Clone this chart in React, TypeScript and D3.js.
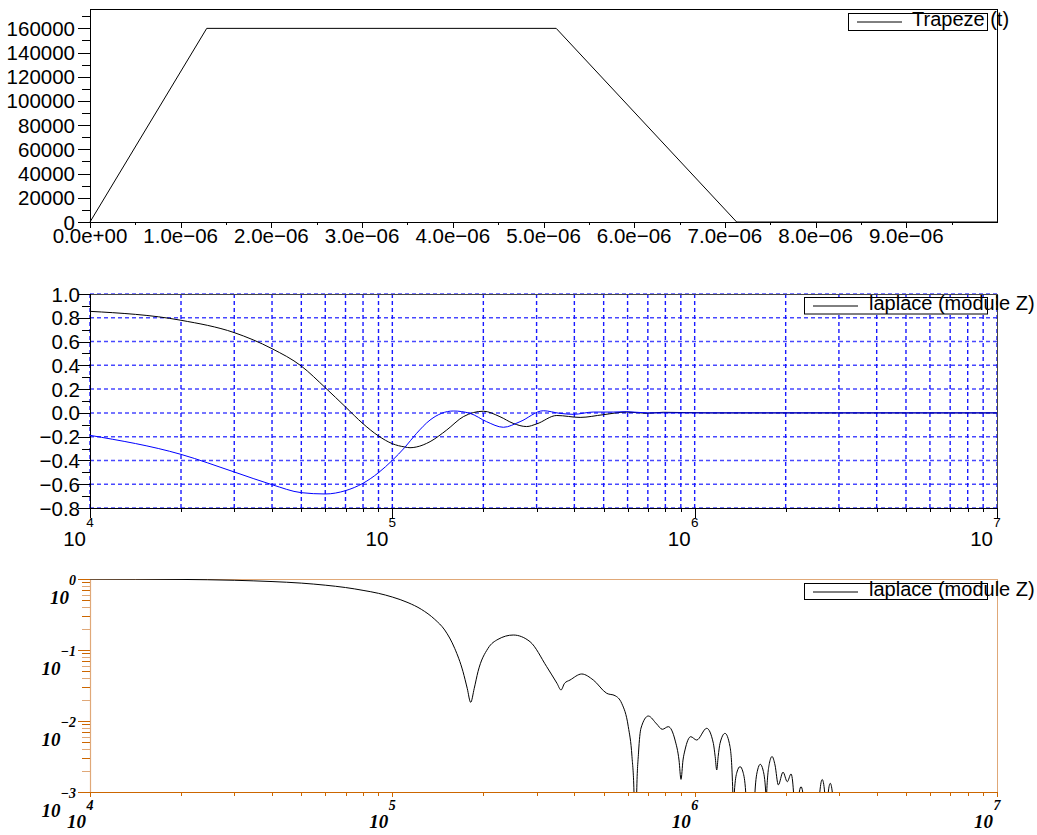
import React from "react";
import * as d3 from "d3";

const W = 1037;
const H = 835;

// ---------- Top panel: trapezoid signal ----------
const trapTime = [0, 1.287e-6, 5.14e-6, 7.13e-6, 1.0e-5];
const trapValue = [0, 160000, 160000, 0, 0];
const topXTicks = [0, 1e-6, 2e-6, 3e-6, 4e-6, 5e-6, 6e-6, 7e-6, 8e-6, 9e-6];
const topXLabels = ["0.0e+00", "1.0e\u221206", "2.0e\u221206", "3.0e\u221206", "4.0e\u221206", "5.0e\u221206", "6.0e\u221206", "7.0e\u221206", "8.0e\u221206", "9.0e\u221206"];
const topYTicks = [0, 20000, 40000, 60000, 80000, 100000, 120000, 140000, 160000];
const topYLabels = ["0", "20000", "40000", "60000", "80000", "100000", "120000", "140000", "160000"];

// ---------- Middle panel: real / imaginary parts ----------
const freqRe = [1e4, 2e4, 3e4, 4e4, 5e4, 6e4, 7e4, 8e4, 9e4, 1e5, 1.1e5, 1.144e5, 1.2e5, 1.333e5, 1.513e5, 1.717e5, 2.0e5, 2.27e5, 2.51e5, 2.78e5, 3.0e5, 3.5e5, 4.18e5, 4.99e5, 5.96e5, 6.94e5, 7.87e5, 1.12e6, 1e7];
const reVals = [0.854, 0.779, 0.675, 0.54, 0.394, 0.212, 0.05, -0.091, -0.194, -0.259, -0.287, -0.293, -0.287, -0.242, -0.144, -0.032, 0.014, -0.032, -0.088, -0.115, -0.093, -0.022, -0.038, -0.015, 0.007, -0.003, 0.005, 0.0, 0.0];
const freqIm = [1e4, 2e4, 3e4, 4e4, 5e4, 6e4, 7e4, 8e4, 9e4, 1e5, 1.1e5, 1.2e5, 1.333e5, 1.591e5, 1.807e5, 2.05e5, 2.33e5, 2.645e5, 3.16e5, 3.585e5, 3.97e5, 4.62e5, 5.38e5, 5.96e5, 6.94e5, 1e7];
const imVals = [-0.189, -0.349, -0.497, -0.604, -0.671, -0.682, -0.654, -0.592, -0.503, -0.399, -0.29, -0.175, -0.06, 0.016, -0.004, -0.074, -0.121, -0.074, 0.018, -0.004, -0.012, 0.007, 0.007, 0.01, 0.0, 0.0];
const midYTicks = [-0.8, -0.6, -0.4, -0.2, 0.0, 0.2, 0.4, 0.6, 0.8, 1.0];
const midYLabels = ["\u22120.8", "\u22120.6", "\u22120.4", "\u22120.2", "0.0", "0.2", "0.4", "0.6", "0.8", "1.0"];
const decadeTicks = [1e4, 1e5, 1e6, 1e7];
const decadeExp = ["4", "5", "6", "7"];

const freqMod = [
  1e4, 2e4, 3e4, 4e4, 5e4, 6e4, 7e4, 8e4, 9e4, 1e5,
  1.127e5, 1.247e5, 1.381e5, 1.49e5, 1.608e5, 1.713e5, 1.769e5, 1.816e5, 1.866e5, 1.92e5,
  2.072e5, 2.236e5, 2.512e5, 2.854e5, 3.24e5, 3.505e5, 3.614e5, 3.711e5, 3.87e5, 4.231e5,
  4.622e5, 5.118e5, 5.452e5, 5.737e5, 6.032e5, 6.204e5, 6.299e5, 6.363e5, 6.431e5, 6.52e5,
  6.645e5, 7.025e5, 7.487e5, 7.816e5, 8.18e5, 8.61e5, 8.876e5, 9.012e5, 9.15e5, 9.29e5,
  9.703e5, 1.0155e6, 1.096e6, 1.153e6, 1.169e6, 1.183e6, 1.196e6, 1.213e6, 1.26e6, 1.309e6,
  1.337e6, 1.345e6, 1.353e6, 1.38e6, 1.413e6, 1.445e6, 1.475e6, 1.484e6,
  1.573e6, 1.583e6, 1.615e6, 1.648e6, 1.683e6, 1.718e6, 1.724e6,
  1.731e6, 1.766e6, 1.803e6, 1.844e6, 1.891e6, 1.96e6, 2.025e6, 2.083e6, 2.123e6, 2.136e6,
  2.206e6, 2.219e6, 2.248e6, 2.277e6, 2.291e6,
  2.578e6, 2.594e6, 2.642e6, 2.691e6, 2.707e6,
  2.751e6, 2.767e6, 2.809e6, 2.852e6, 2.87e6,
  1e7,
];
const modLog10 = [
  0, -0.006, -0.018, -0.036, -0.058, -0.087, -0.12, -0.16, -0.202, -0.254,
  -0.333, -0.427, -0.568, -0.718, -0.977, -1.305, -1.54, -1.737, -1.54, -1.305,
  -0.977, -0.85, -0.789, -0.883, -1.235, -1.47, -1.563, -1.47, -1.423, -1.338,
  -1.423, -1.61, -1.643, -1.751, -2.08, -2.5, -3.0, -4.5, -3.0, -2.45,
  -2.1, -1.93, -2.042, -2.117, -2.08, -2.268, -2.55, -2.822, -2.55, -2.408,
  -2.221, -2.268, -2.103, -2.315, -2.5, -2.69, -2.5, -2.315, -2.174, -2.362,
  -3.0, -4.0, -3.0, -2.72, -2.643, -2.72, -3.0, -3.6,
  -3.6, -3.0, -2.69, -2.61, -2.69, -3.0, -3.5,
  -3.0, -2.6, -2.5, -2.62, -2.9, -2.72, -2.855, -2.746, -3.0, -3.6,
  -3.6, -3.0, -2.926, -3.0, -3.6,
  -3.6, -3.0, -2.825, -3.0, -3.6,
  -3.6, -3.0, -2.878, -3.0, -3.6,
  -3.6,
];
const botYTicks = [1, 0.1, 0.01, 0.001];
const botYExp = ["0", "\u22121", "\u22122", "\u22123"];

const SANS = "'Liberation Sans', Arial, Helvetica, sans-serif";
const SERIF = "'Liberation Serif', 'Times New Roman', serif";
const ORANGE = "#cc6600";
const ORANGE_LIGHT = "#e0a878";
const GRID = "#1a1aff";
const TICK_FS = 20.5;
const LEG_FS = 20;

function minorLog(lo: number, hi: number): number[] {
  const out: number[] = [];
  for (let k = lo; k < hi; k++) {
    for (let m = 2; m <= 9; m++) out.push(m * Math.pow(10, k));
  }
  return out;
}

export default function App() {
  const L = 90;
  const R = 997;

  // top panel scales
  const T0 = 9, T1 = 222;
  const xT = d3.scaleLinear().domain([0, 1e-5]).range([L, R]);
  const yT = d3.scaleLinear().domain([0, 176000]).range([T1, T0]);

  // middle panel scales
  const M0 = 294, M1 = 508;
  const xM = d3.scaleLog().domain([1e4, 1e7]).range([L, R]);
  const yM = d3.scaleLinear().domain([-0.8, 1.0]).range([M1, M0]);

  // bottom panel scales
  const B0 = 579, B1 = 792;
  const xB = d3.scaleLog().domain([1e4, 1e7]).range([L, R]);
  const yB = d3.scaleLog().domain([1e-3, 1]).range([B1, B0]);

  const trapLine = d3.line<number>().x((_, i) => xT(trapTime[i])).y((d) => yT(d))(trapValue) || "";
  const reLine = d3.line<number>().x((_, i) => xM(freqRe[i])).y((d) => yM(d)).curve(d3.curveMonotoneX)(reVals) || "";
  const imLine = d3.line<number>().x((_, i) => xM(freqIm[i])).y((d) => yM(d)).curve(d3.curveMonotoneX)(imVals) || "";
  const modLine = d3.line<number>().x((_, i) => xB(freqMod[i])).y((d) => yB(Math.pow(10, d))).curve(d3.curveMonotoneX)(modLog10) || "";

  const topMinorX = d3.range(0, 20).map((i) => i * 0.5e-6).filter((v, i) => i % 2 === 1);
  const topMinorY = d3.range(0, 18).map((i) => i * 10000);
  const midMinorY = d3.range(0, 19).map((i) => -0.8 + i * 0.1);
  const logMinorX = minorLog(4, 7);
  const logMinorY = minorLog(-3, 0);
  const midGridX = [...decadeTicks, ...logMinorX];

  return (
    <svg width={W} height={H} style={{ position: "absolute", left: 0, top: 0, background: "#fff" }} fontFamily={SANS}>
      <defs>
        <clipPath id="clipM"><rect x={L} y={M0} width={R - L} height={M1 - M0} /></clipPath>
        <clipPath id="clipB"><rect x={L} y={B0} width={R - L} height={B1 - B0} /></clipPath>
      </defs>
      <rect x={0} y={0} width={W} height={H} fill="#fff" />

      {/* ================= TOP PANEL ================= */}
      <g>
        <rect x={L + 0.5} y={T0 + 0.5} width={R - L} height={T1 - T0} fill="none" stroke="#000" strokeWidth={1} />
        {topYTicks.map((v, i) => (
          <g key={"tyt" + i}>
            <line x1={L - 12} x2={L} y1={Math.round(yT(v)) + 0.5} y2={Math.round(yT(v)) + 0.5} stroke="#000" />
            <text x={75} y={yT(v) + 7.5} textAnchor="end" fontSize={TICK_FS} fill="#000">{topYLabels[i]}</text>
          </g>
        ))}
        {topMinorY.map((v, i) => (
          <line key={"tym" + i} x1={L - 8} x2={L} y1={Math.round(yT(v)) + 0.5} y2={Math.round(yT(v)) + 0.5} stroke="#000" />
        ))}
        {topXTicks.map((v, i) => (
          <g key={"txt" + i}>
            <line x1={Math.round(xT(v)) + 0.5} x2={Math.round(xT(v)) + 0.5} y1={T1} y2={T1 + 6} stroke="#000" />
            <text x={xT(v)} y={243} textAnchor="middle" fontSize={TICK_FS} fill="#000">{topXLabels[i]}</text>
          </g>
        ))}
        {topMinorX.map((v, i) => (
          <line key={"txm" + i} x1={Math.round(xT(v)) + 0.5} x2={Math.round(xT(v)) + 0.5} y1={T1} y2={T1 + 3} stroke="#000" />
        ))}
        <path d={trapLine} fill="none" stroke="#000" strokeWidth={1} />
        {/* legend */}
        <rect x={848.5} y={13.5} width={139} height={17} fill="#fff" stroke="#000" />
        <line x1={857} x2={902} y1={22} y2={22} stroke="#000" />
        <text x={912} y={26} fontSize={LEG_FS} fill="#000">Trapeze (t)</text>
      </g>

      {/* ================= MIDDLE PANEL ================= */}
      <g>
        {midYTicks.map((v, i) => (
          <line key={"mgy" + i} x1={L} x2={R} y1={yM(v)} y2={yM(v)} stroke={GRID} strokeOpacity={0.8} strokeDasharray="4,3" strokeWidth={1.5} />
        ))}
        {midGridX.map((v, i) => (
          <line key={"mgx" + i} x1={xM(v)} x2={xM(v)} y1={M0} y2={M1} stroke={GRID} strokeDasharray="4,3" strokeWidth={1.4} />
        ))}
        <rect x={L + 0.5} y={M0 + 0.5} width={R - L} height={M1 - M0} fill="none" stroke="#444" strokeWidth={1} />
        <line x1={L} x2={R} y1={M1 + 0.5} y2={M1 + 0.5} stroke="#000" />
        <line x1={L + 0.5} x2={L + 0.5} y1={M0} y2={M1} stroke="#000" />
        <g clipPath="url(#clipM)">
          <path d={reLine} fill="none" stroke="#000" strokeWidth={1} />
          <path d={imLine} fill="none" stroke="#0000ff" strokeWidth={1} />
        </g>
        {midYTicks.map((v, i) => (
          <g key={"myt" + i}>
            <line x1={L - 12} x2={L} y1={Math.round(yM(v)) + 0.5} y2={Math.round(yM(v)) + 0.5} stroke="#000" />
            <text x={80} y={yM(v) + 7.5} textAnchor="end" fontSize={TICK_FS} fill="#000">{midYLabels[i]}</text>
          </g>
        ))}
        {midMinorY.map((v, i) => (
          <line key={"mym" + i} x1={L - 8} x2={L} y1={Math.round(yM(v)) + 0.5} y2={Math.round(yM(v)) + 0.5} stroke="#000" />
        ))}
        {decadeTicks.map((v, i) => (
          <g key={"mxt" + i}>
            <line x1={Math.round(xM(v)) + 0.5} x2={Math.round(xM(v)) + 0.5} y1={M1} y2={M1 + 10} stroke="#000" />
            <text x={xM(v) - 4} y={545.5} textAnchor="end" fontSize={TICK_FS} fill="#000">10</text>
            <text x={xM(v)} y={526.5} textAnchor="middle" fontSize={13.5} fill="#000">{decadeExp[i]}</text>
          </g>
        ))}
        {logMinorX.map((v, i) => (
          <line key={"mxm" + i} x1={Math.round(xM(v)) + 0.5} x2={Math.round(xM(v)) + 0.5} y1={M1} y2={M1 + 4} stroke="#000" />
        ))}
        {/* legend */}
        <rect x={804.5} y={297.5} width={183} height={16.5} fill="#fff" stroke="#000" />
        <line x1={813} x2={858} y1={306} y2={306} stroke="#000" />
        <text x={869} y={310} fontSize={LEG_FS} fill="#000">laplace (module Z)</text>
      </g>

      {/* ================= BOTTOM PANEL ================= */}
      <g>
        <line x1={L} x2={R + 1} y1={B0 + 0.5} y2={B0 + 0.5} stroke={ORANGE_LIGHT} />
        <line x1={R + 0.5} x2={R + 0.5} y1={B0} y2={B1} stroke={ORANGE_LIGHT} />
        <line x1={L + 0.5} x2={L + 0.5} y1={B0} y2={B1} stroke={ORANGE_LIGHT} strokeWidth={1.2} />
        <g clipPath="url(#clipB)">
          <path d={modLine} fill="none" stroke="#000" strokeWidth={1} />
        </g>
        <line x1={L} x2={R + 1} y1={B1 + 0.5} y2={B1 + 0.5} stroke={ORANGE} />
        {botYTicks.map((v, i) => (
          <g key={"byt" + i}>
            <line x1={L - 12} x2={L} y1={Math.round(yB(v)) + 0.5} y2={Math.round(yB(v)) + 0.5} stroke={ORANGE} />
            <text x={76} y={yB(v) + 25} textAnchor="end" fontFamily={SERIF} fontWeight="bold" fontStyle="italic" fill="#000">
              <tspan fontSize={19}>10</tspan>
              <tspan fontSize={14} dy={-19}>{botYExp[i]}</tspan>
            </text>
          </g>
        ))}
        {logMinorY.map((v, i) => (
          <line key={"bym" + i} x1={L - 8} x2={L} y1={Math.round(yB(v)) + 0.5} y2={Math.round(yB(v)) + 0.5} stroke={i % 2 ? ORANGE : ORANGE_LIGHT} />
        ))}
        {decadeTicks.map((v, i) => (
          <g key={"bxt" + i}>
            <line x1={Math.round(xB(v)) + 0.5} x2={Math.round(xB(v)) + 0.5} y1={B1} y2={B1 + 5} stroke={ORANGE} />
            <text x={xB(v) - 4} y={828} textAnchor="end" fontSize={19} fontFamily={SERIF} fontWeight="bold" fontStyle="italic" fill="#000">10</text>
            <text x={xB(v)} y={810} textAnchor="middle" fontSize={14} fontFamily={SERIF} fontWeight="bold" fontStyle="italic" fill="#000">{decadeExp[i]}</text>
          </g>
        ))}
        {logMinorX.map((v, i) => (
          <line key={"bxm" + i} x1={Math.round(xB(v)) + 0.5} x2={Math.round(xB(v)) + 0.5} y1={B1} y2={B1 + 4} stroke={ORANGE} />
        ))}
        {/* legend */}
        <rect x={804.5} y={583.5} width={183} height={16} fill="#fff" stroke="#000" />
        <line x1={813} x2={858} y1={592} y2={592} stroke="#000" />
        <text x={869} y={596} fontSize={LEG_FS} fill="#000">laplace (module Z)</text>
      </g>
    </svg>
  );
}
